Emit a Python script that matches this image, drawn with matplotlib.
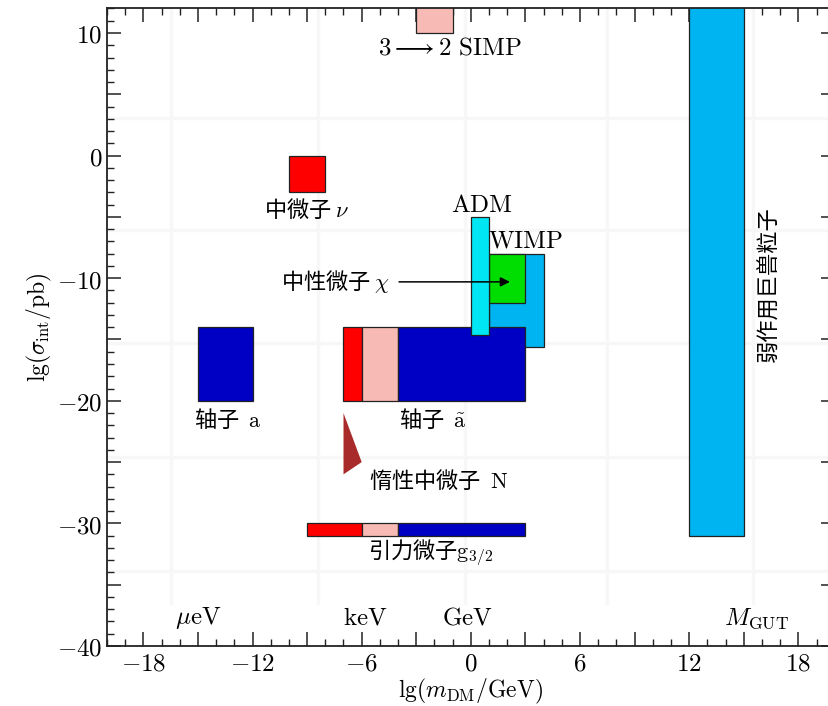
import matplotlib
matplotlib.use("Agg")
import matplotlib.pyplot as plt
from matplotlib.patches import Rectangle, Polygon
from matplotlib.ticker import MultipleLocator, FuncFormatter

plt.rcParams['font.family'] = ['Noto Sans CJK SC', 'DejaVu Sans']
plt.rcParams['mathtext.fontset'] = 'cm'

# rectangles: lg(m/GeV) range and lg(sigma/pb) range
rect_left = [-3, -10, -15, 1, 1, -7, -6, -4, -9, -6, -4, 0, 12]
rect_right = [-1, -8, -12, 4, 3, -6, -4, 3, -6, -4, 3, 1, 15]
rect_bottom = [10, -3, -20, -15.6, -12, -20, -20, -20, -31, -31, -31, -14.6, -31]
rect_top = [13, 0, -14, -8, -8, -14, -14, -14, -30, -30, -30, -5, 13]
rect_color = ['#f7bab4', '#ff0000', '#0000c4', '#00b4f2', '#00dd00',
              '#ff0000', '#f7bab4', '#0000c4',
              '#ff0000', '#f7bab4', '#0000c4', '#00e6f2', '#00b4f2']

# sterile neutrino wedge
wedge_x = [-7, -7, -6]
wedge_y = [-21, -26, -25]

# faint background grid
grid_x = [-16.5, -8.4, -0.3, 7.5, 15.5]
grid_y = [3.1, -6.1, -15.3, -24.6, -33.9]

fig = plt.figure(figsize=(8.29, 7.06), dpi=100)
ax = fig.add_axes([0.129, 0.085, 0.878, 0.903])
ax.set_xlim(-20, 20)
ax.set_ylim(-40, 12)

for gx in grid_x:
    ax.plot([gx, gx], [-36.5, 12], color='#f7f7f7', lw=2.5, zorder=0)
for gy in grid_y:
    ax.axhline(gy, color='#f7f7f7', lw=2.5, zorder=0)

for x0, x1, y0, y1, c in zip(rect_left, rect_right, rect_bottom, rect_top, rect_color):
    ax.add_patch(Rectangle((x0, y0), x1 - x0, y1 - y0, facecolor=c,
                           edgecolor='#222222', lw=0.9, zorder=2))

ax.add_patch(Polygon(list(zip(wedge_x, wedge_y)), closed=True,
                     facecolor='#a82a2a', edgecolor='none', zorder=2))

fs = 16
fm = 18
ax.text(-1.15, 8.8, r'$3\longrightarrow 2\ \mathrm{SIMP}$', fontsize=fm, ha='center', va='center')
ax.text(-9.0, -4.4, r'中微子 $\nu$', fontsize=fs, ha='center', va='center')
ax.text(0.6, -4.0, r'$\mathrm{ADM}$', fontsize=fm, ha='center', va='center')
ax.text(3.0, -6.9, r'$\mathrm{WIMP}$', fontsize=fm, ha='center', va='center')
ax.text(-4.45, -10.3, r'中性微子 $\chi$', fontsize=fs, ha='right', va='center')
ax.annotate('', xy=(2.3, -10.3), xytext=(-4.1, -10.3),
            arrowprops=dict(arrowstyle='-|>', color='black', lw=1.1, mutation_scale=14),
            zorder=5)
ax.text(-13.35, -21.6, r'轴子  $\mathrm{a}$', fontsize=fs, ha='center', va='center')
ax.text(-2.1, -21.6, r'轴子  $\tilde{\mathrm{a}}$', fontsize=fs, ha='center', va='center')
ax.text(-1.8, -26.5, r'惰性中微子  $\mathrm{N}$', fontsize=fs, ha='center', va='center')
ax.text(-2.2, -32.4, r'引力微子$\mathrm{g}_{3/2}$', fontsize=fs, ha='center', va='center')
ax.text(16.4, -10.5, '弱作用巨兽粒子', fontsize=fs, rotation=90, ha='center', va='center')

ax.text(-15.0, -37.7, r'$\mu\mathrm{eV}$', fontsize=fm, ha='center', va='center')
ax.text(-5.8, -37.7, r'$\mathrm{keV}$', fontsize=fm, ha='center', va='center')
ax.text(-0.2, -37.7, r'$\mathrm{GeV}$', fontsize=fm, ha='center', va='center')
ax.text(15.7, -37.7, r'$M_{\mathrm{GUT}}$', fontsize=fm, ha='center', va='center')

ax.xaxis.set_major_locator(MultipleLocator(3))
ax.xaxis.set_minor_locator(MultipleLocator(1))
ax.yaxis.set_major_locator(MultipleLocator(5))
ax.yaxis.set_minor_locator(MultipleLocator(1))
ax.xaxis.set_major_formatter(FuncFormatter(
    lambda v, p: f'${int(round(v))}$' if round(v) % 6 == 0 else ''))
ax.yaxis.set_major_formatter(FuncFormatter(
    lambda v, p: f'${int(round(v))}$' if round(v) % 10 == 0 else ''))
ax.tick_params(which='both', direction='in', top=True, right=True, labelsize=18,
               color='#222222')
ax.tick_params(which='major', length=10, width=1.1)
ax.tick_params(which='minor', length=5, width=1.0)
for s in ax.spines.values():
    s.set_linewidth(1.3)
    s.set_color('#222222')

ax.set_xlabel(r'$\mathrm{lg}(m_{\mathrm{DM}}/\mathrm{GeV})$', fontsize=17, labelpad=0)
ax.set_ylabel(r'$\mathrm{lg}(\sigma_{\mathrm{int}}/\mathrm{pb})$', fontsize=17, labelpad=2)

fig.savefig('out.png', dpi=100)
